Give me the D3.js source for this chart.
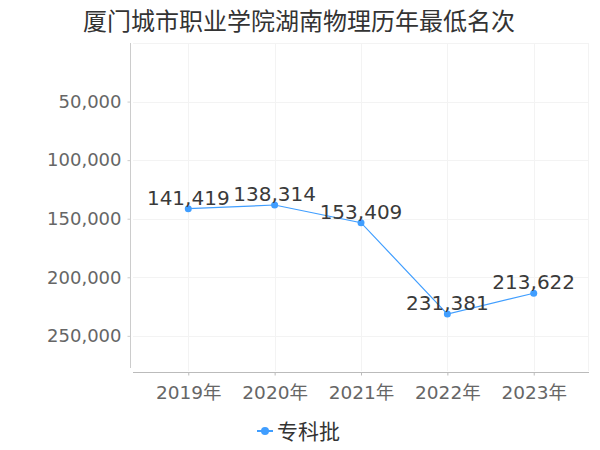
<!DOCTYPE html>
<html><head><meta charset="utf-8">
<script src="https://cdn.jsdelivr.net/npm/d3@7/dist/d3.min.js"></script>
<style>
html,body{margin:0;padding:0;background:#fff;}
svg{display:block;font-family:"DejaVu Sans","Noto Sans CJK SC",sans-serif;}
</style></head>
<body>
<svg id="chart" width="600" height="450"></svg>
<script>
const title = "厦门城市职业学院湖南物理历年最低名次";
const categories = ["2019年","2020年","2021年","2022年","2023年"];
const values = [141419, 138314, 153409, 231381, 213622];
const seriesName = "专科批";
const yTicks = [50000, 100000, 150000, 200000, 250000];
const yMax = 280000;

const svg = d3.select("#chart");
const color = "#409eff";
const x = d3.scalePoint().domain(categories).range([133, 589]).padding(0.64);
const y = d3.scaleLinear().domain([0, yMax]).range([43, 371]);
const fmt = d3.format(",");

// title
svg.append("text").attr("x", 299).attr("y", 30).attr("text-anchor", "middle")
  .attr("font-size", 24).attr("fill", "#333").text(title);

// grid
const g = svg.append("g");
g.selectAll(".hg").data([0].concat(yTicks)).join("line")
  .attr("x1", 133).attr("x2", 589).attr("y1", d => Math.round(y(d))+0.5).attr("y2", d => Math.round(y(d))+0.5)
  .attr("stroke", "#f3f3f3");
g.selectAll(".vg").data(categories).join("line")
  .attr("x1", d => Math.round(x(d))+0.5).attr("x2", d => Math.round(x(d))+0.5).attr("y1", 43).attr("y2", 371)
  .attr("stroke", "#f3f3f3");
g.append("line").attr("x1", 588.5).attr("x2", 588.5).attr("y1", 43).attr("y2", 371).attr("stroke", "#f3f3f3");

// y axis
const yAxis = svg.append("g").attr("transform", "translate(130.5,0)")
  .call(d3.axisLeft(y).tickValues(yTicks).tickFormat(fmt).tickSize(3).tickPadding(6))
  .attr("font-family", null).attr("font-size", null);
yAxis.select(".domain").attr("d", "M0,43V368").attr("stroke", "#ccc");
yAxis.selectAll(".tick line").attr("stroke", "#ccc");
yAxis.selectAll("text").attr("font-size", 18).attr("fill", "#666");

// x axis
const xAxis = svg.append("g").attr("transform", "translate(0,372.5)")
  .call(d3.axisBottom(x).tickSize(3).tickPadding(10))
  .attr("font-family", null).attr("font-size", null);
xAxis.select(".domain").attr("d", "M133,0H589").attr("stroke", "#bbb");
xAxis.selectAll(".tick line").attr("stroke", "#bbb");
xAxis.selectAll("text").attr("font-size", 18.5).attr("fill", "#666");

// line
const data = categories.map((c, i) => ({c, v: values[i]}));
svg.append("path").datum(data)
  .attr("d", d3.line().x(d => x(d.c)).y(d => y(d.v)))
  .attr("fill", "none").attr("stroke", color).attr("stroke-width", 1.2);
svg.selectAll(".pt").data(data).join("circle")
  .attr("cx", d => x(d.c)).attr("cy", d => y(d.v)).attr("r", 3.5).attr("fill", color);
svg.selectAll(".lbl").data(data).join("text")
  .attr("x", d => x(d.c)).attr("y", d => y(d.v) - 4).attr("text-anchor", "middle")
  .attr("font-size", 20).attr("fill", "#3a3a3a").text(d => fmt(d.v));

// legend
const lg = svg.append("g");
lg.append("line").attr("x1", 257).attr("x2", 273).attr("y1", 431).attr("y2", 431)
  .attr("stroke", color).attr("stroke-width", 2);
lg.append("circle").attr("cx", 265).attr("cy", 431).attr("r", 4).attr("fill", color);
lg.append("text").attr("x", 277).attr("y", 439).attr("font-size", 21).attr("fill", "#333").text(seriesName);
</script>
</body></html>
